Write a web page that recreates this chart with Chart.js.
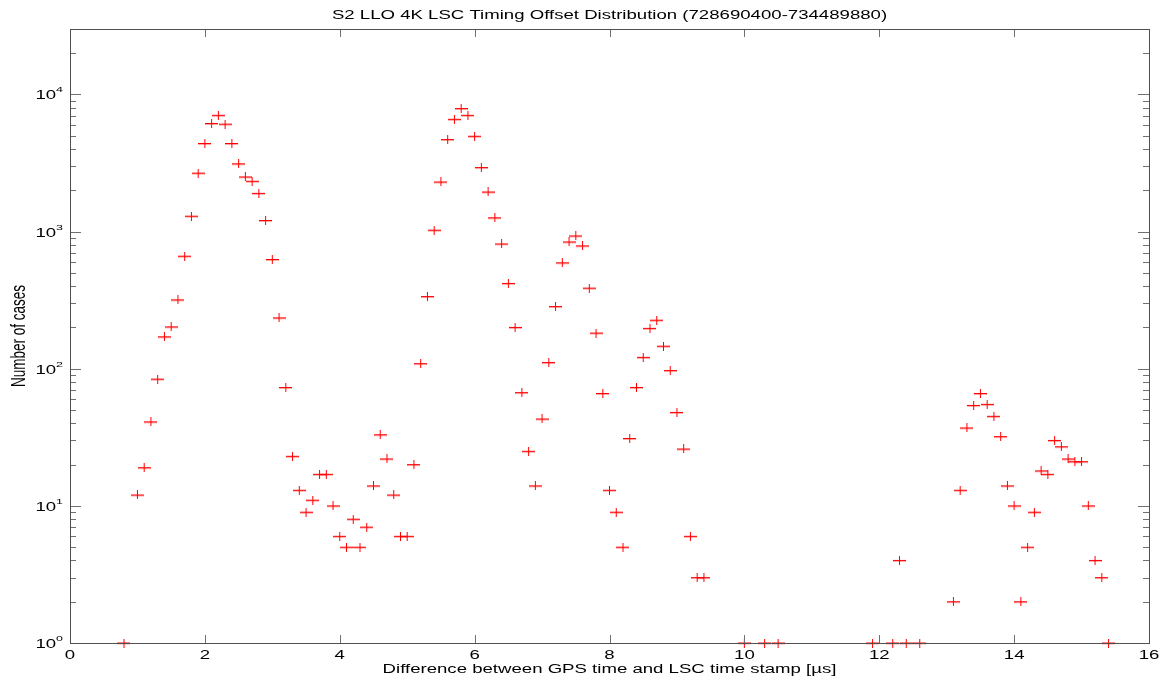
<!DOCTYPE html>
<html>
<head>
<meta charset="utf-8">
<title>S2 LLO 4K LSC Timing Offset Distribution</title>
<script src="https://cdn.jsdelivr.net/npm/chart.js@4/dist/chart.umd.min.js"></script>
<style>
  html, body { margin: 0; padding: 0; background: #fff; }
  canvas { display: block; }
</style>
</head>
<body>
<canvas id="offsetChart" width="1168" height="683"></canvas>
<script>
// timing offset bins [us] and number of cases in each bin
const offsets = [
  0.8,
  1.0, 1.1, 1.2, 1.3, 1.4, 1.5, 1.6, 1.7, 1.8, 1.9,
  2.0, 2.1, 2.2, 2.3, 2.4, 2.5, 2.6, 2.7, 2.8, 2.9,
  3.0, 3.1, 3.2, 3.3, 3.4, 3.5, 3.6, 3.7, 3.8, 3.9,
  4.0, 4.1, 4.2, 4.3, 4.4, 4.5, 4.6, 4.7, 4.8, 4.9,
  5.0, 5.1, 5.2, 5.3, 5.4, 5.5, 5.6, 5.7, 5.8, 5.9,
  6.0, 6.1, 6.2, 6.3, 6.4, 6.5, 6.6, 6.7, 6.8, 6.9,
  7.0, 7.1, 7.2, 7.3, 7.4, 7.5, 7.6, 7.7, 7.8, 7.9,
  8.0, 8.1, 8.2, 8.3, 8.4, 8.5, 8.6, 8.7, 8.8, 8.9,
  9.0, 9.1, 9.2, 9.3, 9.4,
  10.0, 10.3, 10.5, 11.9, 12.2, 12.3, 12.4, 12.6,
  13.1, 13.2, 13.3, 13.4, 13.5, 13.6, 13.7, 13.8, 13.9,
  14.0, 14.1, 14.2, 14.3, 14.4, 14.5, 14.6, 14.7, 14.8, 14.9,
  15.0, 15.1, 15.2, 15.3, 15.4
];
const cases = [
  1,
  12, 19, 41, 84, 171, 202, 318, 662, 1295, 2670,
  4390, 6140, 7050, 6080, 4390, 3120, 2505, 2330, 1900, 1205,
  626, 235, 73, 23, 13, 9, 11, 17, 17, 10,
  6, 5, 8, 5, 7, 14, 33, 22, 12, 6,
  6, 20, 109, 336, 1024, 2300, 4690, 6590, 7890, 7050,
  4960, 2930, 1945, 1260, 813, 419, 200, 67, 25, 14,
  43, 111, 284, 592, 841, 930, 787, 387, 182, 66,
  13, 9, 5, 31, 73, 121, 197, 226, 146, 97,
  48, 26, 6, 3, 3,
  1, 1, 1, 1, 1, 4, 1, 1,
  2, 13, 37, 54, 66, 55, 45, 32, 14,
  10, 2, 5, 9, 18, 17, 30, 27, 22, 21,
  21, 10, 4, 3, 1
];
const xTickValues = [0, 2, 4, 6, 8, 10, 12, 14, 16];
const yDecades = [0, 1, 2, 3, 4];

const titleText = "S2 LLO 4K LSC Timing Offset Distribution (728690400-734489880)";
const xTitle = "Difference between GPS time and LSC time stamp [\u00b5s]";
const yTitle = "Number of cases";

const FONT = "'Liberation Sans', Arial, Helvetica, sans-serif";
const STRETCH = 1.55;   // text is drawn wide, like the old plot export

// "+" marker, wider than tall
function makeCross() {
  const c = document.createElement("canvas");
  c.width = 13; c.height = 9;
  const g = c.getContext("2d");
  g.fillStyle = "rgba(255,0,0,0.35)";
  g.fillRect(0, 5, 13, 1);
  g.fillStyle = "#ff0000";
  g.fillRect(0, 4, 13, 1);
  g.fillRect(6, 0, 1, 9);
  return c;
}

function wideText(ctx, text, x, y, align, size) {
  ctx.save();
  ctx.font = size + "px " + FONT;
  ctx.translate(x, y);
  ctx.scale(STRETCH, 1);
  ctx.textAlign = align;
  ctx.textBaseline = "alphabetic";
  ctx.fillText(text, 0, 0);
  ctx.restore();
}

function line(ctx, x1, y1, x2, y2) {
  ctx.beginPath();
  ctx.moveTo(x1, y1);
  ctx.lineTo(x2, y2);
  ctx.stroke();
}

// axes box with inward ticks, labels and titles
const frame = {
  id: "frame",
  afterDatasetsDraw(chart) {
    const ctx = chart.ctx;
    const a = chart.chartArea;
    const xs = chart.scales.x, ys = chart.scales.y;
    ctx.save();

    ctx.lineWidth = 1;
    ctx.strokeStyle = "#707070";
    xTickValues.forEach(v => {
      const px = Math.round(xs.getPixelForValue(v)) + 0.5;
      line(ctx, px, a.bottom, px, a.bottom - 8);
      line(ctx, px, a.top, px, a.top + 8);
    });
    yDecades.forEach(d => {
      for (let m = 1; m <= 9; m++) {
        const v = m * Math.pow(10, d);
        if (v > ys.max) break;
        const py = Math.round(ys.getPixelForValue(v)) + 0.5;
        const len = m === 1 ? 11 : 6;
        line(ctx, a.left, py, a.left + len, py);
        line(ctx, a.right, py, a.right - len, py);
      }
    });

    ctx.strokeStyle = "#505050";
    ctx.strokeRect(a.left + 0.5, a.top + 0.5, a.right - a.left, a.bottom - a.top);

    ctx.fillStyle = "#000";
    // x tick labels
    xTickValues.forEach(v => {
      wideText(ctx, String(v), xs.getPixelForValue(v), a.bottom + 16, "center", 12);
    });
    // y tick labels as 10^n
    yDecades.forEach(d => {
      const py = ys.getPixelForValue(Math.pow(10, d));
      ctx.font = "8px " + FONT;
      const ew = ctx.measureText(String(d)).width * STRETCH;
      const ex = a.left - 7 - ew;
      wideText(ctx, String(d), ex, py - 2, "left", 8);
      wideText(ctx, "10", ex, py + 5, "right", 12);
    });

    const cx = (a.left + a.right) / 2;
    wideText(ctx, titleText, cx, 19, "center", 12);
    wideText(ctx, xTitle, cx, a.bottom + 30, "center", 12);

    // y title: rotated, the stretch lands on the glyph height
    ctx.save();
    ctx.font = "13.5px " + FONT;
    ctx.translate(19, (a.top + a.bottom) / 2);
    ctx.scale(STRETCH, 1);
    ctx.rotate(-Math.PI / 2);
    ctx.textAlign = "center";
    ctx.textBaseline = "middle";
    ctx.fillText(yTitle, 0, 0);
    ctx.restore();

    ctx.restore();
  }
};

const points = offsets.map((x, i) => ({ x: x, y: cases[i] }));

new Chart(document.getElementById("offsetChart"), {
  type: "scatter",
  data: {
    datasets: [{
      data: points,
      pointStyle: makeCross(),
      pointRadius: 6,
      clip: false
    }]
  },
  options: {
    responsive: false,
    animation: false,
    layout: { padding: { left: 70, right: 19, top: 29, bottom: 40 } },
    plugins: { legend: { display: false }, tooltip: { enabled: false } },
    scales: {
      x: { type: "linear", min: 0, max: 16, display: false },
      y: { type: "logarithmic", min: 1, max: 30000, display: false }
    }
  },
  plugins: [frame]
});
</script>
</body>
</html>
